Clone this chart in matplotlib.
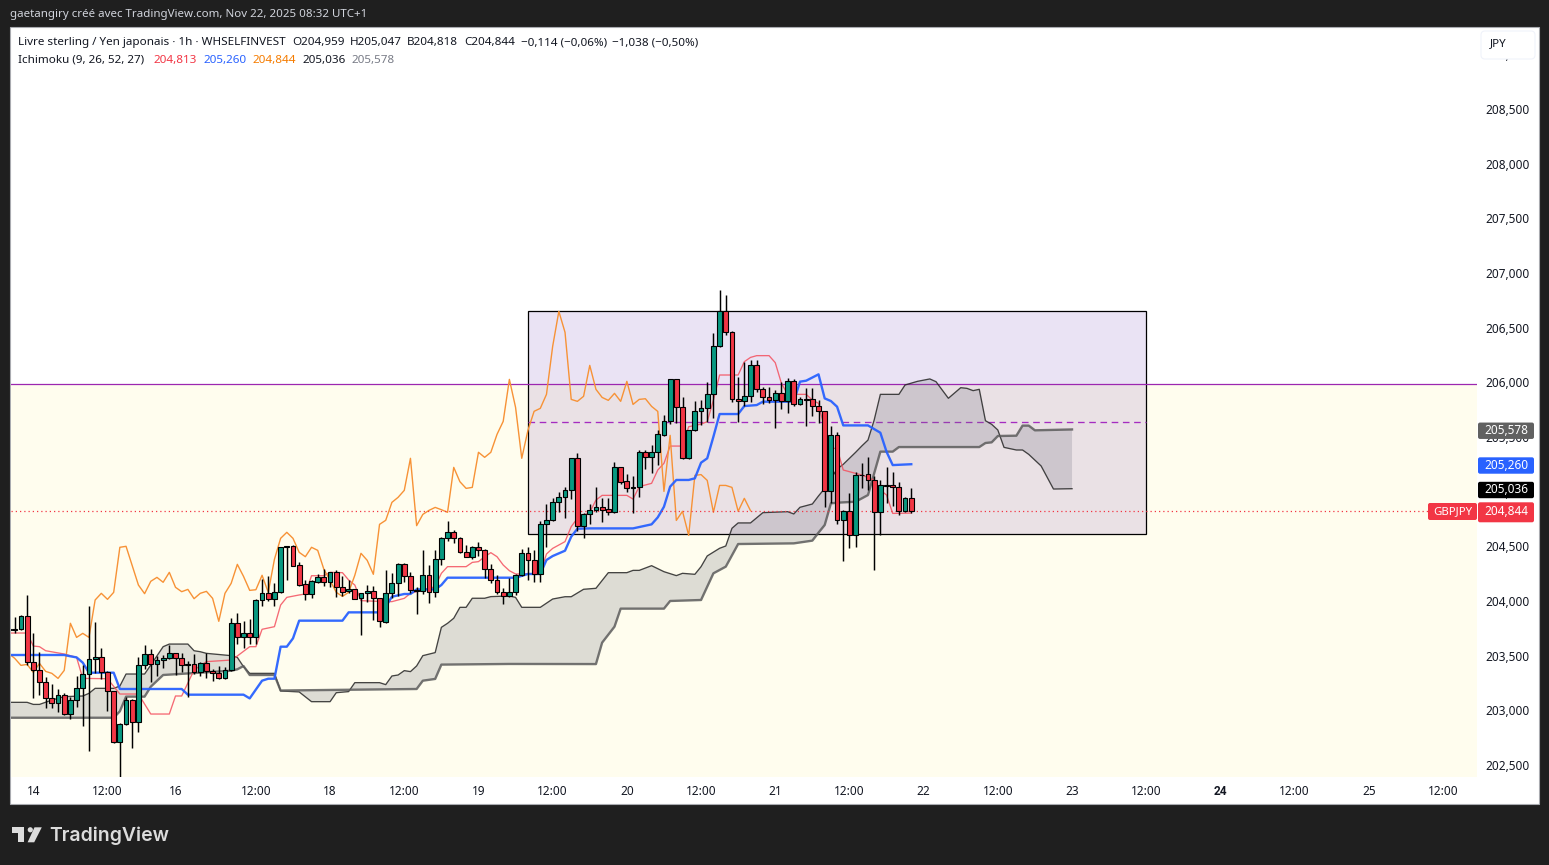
import numpy as np
import matplotlib
matplotlib.use('Agg')
import matplotlib.pyplot as plt
from matplotlib.patches import Rectangle, FancyBboxPatch, Polygon, Circle
from matplotlib.transforms import ScaledTranslation

plt.rcParams['font.family'] = ['Noto Sans', 'DejaVu Sans']

# hourly candles, first one is bar -4, bar 0 is the "14" tick
first_bar = -4
opens = [203.74,203.745,203.75,203.869,203.448,203.374,203.265,203.118,203.079,203.146,
 202.972,203.1,203.21,203.338,203.475,203.493,203.356,203.182,202.716,202.88,
 203.1,202.899,203.42,203.521,203.429,203.466,203.484,203.53,203.484,203.42,
 203.429,203.356,203.438,203.365,203.347,203.301,203.374,203.805,203.676,203.713,
 203.676,204.015,204.079,204.024,204.088,204.5,204.508,204.338,204.161,204.076,
 204.186,204.225,204.18,204.271,204.134,204.097,204.115,204.033,204.079,204.097,
 204.033,203.817,204.079,204.17,204.344,204.234,204.103,204.097,204.244,204.088,
 204.39,204.582,204.637,204.582,204.454,204.414,204.5,204.472,204.298,204.198,
 204.088,204.051,204.088,204.244,204.445,204.381,204.253,204.71,204.747,204.911,
 204.957,205.021,205.314,204.698,204.801,204.838,204.865,204.847,204.82,205.231,
 205.103,205.039,205.048,205.369,205.323,205.369,205.53,205.652,206.036,205.78,
 205.314,205.57,205.744,205.771,205.899,206.338,206.658,206.466,205.853,205.835,
 205.881,206.164,205.945,205.871,205.844,205.908,205.835,206.018,205.807,205.85,
 205.853,205.789,205.743,205.011,205.524,204.746,204.829,204.609,205.158,205.167,
 205.112,204.82,205.06,205.066,205.048,204.829,204.95]
highs = [203.77,203.859,203.881,204.064,203.713,203.539,203.316,203.249,203.204,203.164,
 203.134,203.323,203.423,203.963,203.817,203.576,203.371,203.185,202.889,203.134,
 203.109,203.5,203.606,203.567,203.506,203.515,203.606,203.536,203.536,203.463,
 203.521,203.454,203.53,203.384,203.414,203.408,203.85,203.896,203.826,203.841,
 204.024,204.207,204.238,204.17,204.506,204.509,204.521,204.369,204.201,204.201,
 204.253,204.298,204.277,204.292,204.237,204.201,204.118,204.082,204.155,204.146,
 204.039,204.292,204.262,204.353,204.353,204.277,204.14,204.475,204.338,204.475,
 204.591,204.741,204.658,204.591,204.521,204.512,204.552,204.481,204.344,204.244,
 204.125,204.216,204.256,204.481,204.506,204.475,204.741,204.896,204.954,205.009,
 205.048,205.317,205.36,204.811,204.896,205.055,204.948,204.948,205.283,205.237,
 205.17,205.155,205.39,205.39,205.436,205.573,205.71,206.04,206.04,205.872,
 205.573,205.838,205.847,206.009,206.457,206.854,206.808,206.482,206.061,206.198,
 206.213,206.213,205.969,205.969,205.939,206.015,206.045,206.036,205.878,205.954,
 205.954,205.847,205.746,205.609,205.551,204.841,204.993,205.191,205.268,205.323,
 205.152,205.115,205.231,205.185,205.097,204.963,205.04]
lows = [203.73,203.719,203.744,203.423,203.124,203.149,203.033,203.027,202.993,202.966,
 202.929,203.042,202.865,202.639,203.347,203.292,203.002,202.706,202.402,202.874,
 202.667,202.813,203.384,203.271,203.323,203.393,203.475,203.332,203.362,203.134,
 203.341,203.323,203.307,203.28,203.292,203.298,203.371,203.615,203.576,203.615,
 203.615,203.966,204.009,203.963,204.079,204.201,204.329,204.146,204.018,204.039,
 204.177,204.146,204.134,204.048,204.057,204.079,204.024,203.698,204.003,203.835,
 203.774,203.811,204.033,204.057,204.186,204.079,203.893,204.073,203.987,204.048,
 204.338,204.561,204.542,204.445,204.408,204.39,204.421,204.222,204.17,204.073,
 203.981,204.048,204.067,204.237,204.201,204.186,204.186,204.506,204.744,204.826,
 204.771,204.942,204.652,204.588,204.713,204.826,204.734,204.795,204.811,205.079,
 205.009,204.811,204.963,205.216,205.182,205.252,205.518,205.625,205.64,205.305,
 205.31,205.564,205.619,205.649,205.686,206.329,206.442,205.832,205.649,205.792,
 205.832,205.923,205.81,205.817,205.588,205.762,205.731,205.795,205.801,205.612,
 205.701,205.634,204.871,204.902,204.71,204.377,204.496,204.505,205.045,205.024,
 204.295,204.609,204.902,204.877,204.795,204.82,204.81]
closes = [203.75,203.75,203.869,203.448,203.374,203.265,203.118,203.079,203.146,202.972,
 203.1,203.21,203.338,203.475,203.493,203.356,203.182,202.716,202.88,203.1,
 202.899,203.42,203.521,203.429,203.466,203.484,203.53,203.484,203.42,203.429,
 203.356,203.438,203.365,203.347,203.301,203.374,203.805,203.676,203.713,203.676,
 204.018,204.079,204.024,204.088,204.5,204.509,204.332,204.155,204.076,204.189,
 204.225,204.18,204.271,204.134,204.094,204.115,204.03,204.079,204.097,204.033,
 203.823,204.079,204.17,204.344,204.234,204.106,204.112,204.244,204.088,204.39,
 204.582,204.637,204.582,204.454,204.414,204.5,204.472,204.298,204.198,204.088,
 204.051,204.088,204.244,204.445,204.381,204.253,204.71,204.747,204.911,204.957,
 205.021,205.314,204.698,204.801,204.838,204.865,204.844,204.82,205.231,205.1,
 205.039,205.048,205.369,205.323,205.369,205.533,205.652,206.036,205.78,205.314,
 205.57,205.744,205.771,205.899,206.338,206.658,206.466,205.853,205.835,205.881,
 206.164,205.945,205.871,205.844,205.908,205.835,206.018,205.807,205.853,205.859,
 205.789,205.743,205.011,205.524,204.746,204.829,204.609,205.158,205.165,205.112,
 204.82,205.066,205.066,205.048,204.829,204.948,204.835]

# ichimoku lines, read at their corners: bar, price
tenkan_bars = [-4,-1,0,1,2,5,7,8,12,14,17,19,22,23,24,26,28,32,33,35,36,37,39,40,41,43,44,45,47,48,50,51,52,53,57,58,60,61,63,65,66,67,70,71,72,73,74,75,76,77,78,79,82,83,84,86,87,88,90,91,92,96,97,98,100,101,102,103,105,106,108,109,110,111,114,115,116,117,119,120,121,122,125,126,127,128,129,130,131,134,136,137,138,139,142]
tenkan_vals = [203.716,203.716,203.597,203.591,203.554,203.524,203.493,203.301,203.298,203.158,203.158,202.975,202.975,203.14,203.14,203.378,203.454,203.469,203.506,203.591,203.591,203.75,203.774,203.972,204.042,204.064,204.073,204.24,204.24,204.271,204.268,204.201,204.155,204.012,204.003,204.003,204.033,204.079,204.109,204.14,204.262,204.323,204.323,204.362,204.369,204.414,204.451,204.414,204.338,204.286,204.256,204.256,204.262,204.439,204.49,204.552,204.689,204.765,204.82,204.932,204.975,204.975,204.941,205.055,205.085,205.207,205.268,205.426,205.426,205.603,205.627,205.649,205.847,206.076,206.076,206.198,206.237,206.253,206.253,206.189,206.0,205.899,205.899,205.847,205.817,205.573,205.405,205.405,205.207,205.161,205.115,205.024,204.978,204.81,204.813]
kijun_bars = [-4,5,6,7,8,9,13,14,24,25,34,35,37,38,39,40,41,42,43,50,51,56,57,58,60,61,62,65,66,67,78,80,82,83,84,86,87,88,90,97,100,101,102,103,104,106,107,108,109,110,111,114,115,117,118,123,124,125,127,128,129,130,131,135,137,138,139,142]
kijun_vals = [203.515,203.515,203.503,203.493,203.445,203.353,203.353,203.204,203.204,203.152,203.152,203.118,203.28,203.298,203.298,203.591,203.591,203.667,203.829,203.829,203.905,203.905,203.957,204.048,204.073,204.073,204.115,204.115,204.155,204.222,204.222,204.256,204.256,204.384,204.42,204.469,204.597,204.67,204.673,204.673,204.71,204.774,204.871,205.055,205.116,205.116,205.131,205.274,205.314,205.512,205.719,205.719,205.792,205.801,205.832,205.832,206.015,206.024,206.082,205.862,205.838,205.786,205.615,205.615,205.548,205.374,205.252,205.26]
span_a_bars = [-4,-1,0,1,3,5,8,9,10,13,14,15,18,19,21,22,25,26,27,28,32,33,34,35,39,40,43,45,48,49,51,52,56,57,58,59,60,61,62,63,65,66,67,68,69,70,71,73,74,77,78,79,82,84,86,87,89,91,93,96,97,98,100,102,104,105,107,108,109,111,112,113,114,116,118,122,123,124,126,127,128,130,131,132,133,134,135,136,137,140,141,143,145,146,148,150,151,152,153,154,155,156,157,159,160,161,163,165,168]
span_a_vals = [203.082,203.082,203.063,203.063,203.103,203.134,203.14,203.164,203.21,203.21,203.231,203.341,203.341,203.423,203.591,203.615,203.615,203.554,203.545,203.53,203.509,203.493,203.408,203.347,203.347,203.186,203.177,203.088,203.088,203.17,203.18,203.262,203.262,203.244,203.323,203.332,203.372,203.363,203.415,203.509,203.537,203.768,203.805,203.851,203.951,203.951,204.034,204.034,204.049,204.055,204.042,203.951,203.951,204.027,204.048,204.048,204.116,204.125,204.268,204.268,204.289,204.289,204.332,204.277,204.241,204.262,204.253,204.323,204.421,204.491,204.512,204.674,204.723,204.723,204.817,204.826,204.805,204.866,204.896,204.97,205.039,205.216,205.259,205.314,205.369,205.427,205.481,205.664,205.899,205.899,205.985,206.018,206.04,206.015,205.863,205.96,205.954,205.933,205.945,205.658,205.625,205.573,205.414,205.39,205.39,205.35,205.244,205.033,205.036]
span_b_bars = [-4,13,14,15,18,19,21,32,33,34,35,39,40,62,63,65,66,77,91,92,94,95,102,103,108,110,112,114,123,126,127,128,129,130,133,135,137,139,140,153,154,155,156,159,160,161,162,168]
span_b_vals = [202.941,202.941,203.0,203.134,203.134,203.225,203.332,203.371,203.384,203.414,203.332,203.332,203.19,203.204,203.28,203.296,203.427,203.433,203.432,203.628,203.774,203.939,203.939,204.009,204.018,204.262,204.323,204.53,204.536,204.561,204.634,204.704,204.902,204.908,204.917,204.978,205.375,205.375,205.417,205.417,205.454,205.46,205.518,205.521,205.613,205.613,205.57,205.578]
lag_shift = 26

# drawings on the chart
zone_left, zone_right = 80, 180
zone_low, zone_high = 204.622, 206.662
zone_mid = 205.642
level = 205.99

y_ticks = [202.5,203,203.5,204,204.5,205,205.5,206,206.5,207,207.5,208,208.5,209]
y_labels = ['202,500','203,000','203,500','204,000','204,500','205,000','205,500','206,000','206,500','207,000','207,500','208,000','208,500','209,000']
x_ticks = [0,12,23,36,48,60,72,84,96,108,120,132,144,156,168,180,192,204,216,228]
x_labels = ['14','12:00','16','12:00','18','12:00','19','12:00','20','12:00','21','12:00','22','12:00','23','12:00','24','12:00','25','12:00']

badge_prices = [205.578, 205.26, 205.036, 204.844]
badge_texts = ['205,578', '205,260', '205,036', '204,844']
badge_colors = ['#616161', '#2962ff', '#000000', '#f23645']

W, H = 1549, 865
fig = plt.figure(figsize=(W / 100, H / 100), dpi=100, facecolor='#1f1f1f')


def px_rect(x0, y0, x1, y1):
    return [x0 / W, 1 - y1 / H, (x1 - x0) / W, (y1 - y0) / H]


back = fig.add_axes([0, 0, 1, 1], zorder=0)
back.set_xlim(0, W)
back.set_ylim(H, 0)
back.axis('off')
back.add_patch(Rectangle((10, 27), 1529, 777, fc='white', ec='#a9abb0', lw=0.8))

ax = fig.add_axes(px_rect(11, 28, 1477, 777), zorder=1)
ax.patch.set_alpha(0)
ax.set_xlim(-3.607, 233.5)
ax.set_ylim(202.399, 209.25)
for s in ax.spines.values():
    s.set_visible(False)

bars = np.arange(first_bar, first_bar + len(closes))
opens, highs, lows, closes = map(np.array, (opens, highs, lows, closes))

# background zone and the rectangle
ax.axhspan(202.399, level, color='#fffdee', lw=0, zorder=0)
ax.add_patch(Rectangle((zone_left, zone_low), zone_right - zone_left, zone_high - zone_low,
                       fc='#6e3cb4', alpha=0.14, lw=0, zorder=1))
ax.add_patch(Rectangle((zone_left, zone_low), zone_right - zone_left, zone_high - zone_low,
                       fc='none', ec='black', lw=0.9, zorder=1.5))
ax.axhline(level, color='#9c27b0', lw=0.9, zorder=1.6)
ax.plot([zone_left, zone_right], [zone_mid, zone_mid], color='#a52cc0', lw=0.95,
        dashes=(5, 3.5), zorder=1.6)

# cloud, one polygon so the twists stay filled
ax.fill(np.r_[span_a_bars, span_b_bars[::-1]], np.r_[span_a_vals, span_b_vals[::-1]],
        color='#707080', alpha=0.23, lw=0, zorder=2)
ax.plot(span_a_bars, span_a_vals, color='#262626', lw=0.95, alpha=0.85, zorder=3)
ax.plot(span_b_bars, span_b_vals, color='#5c5c5c', lw=1.7, alpha=0.85, zorder=3)

# conversion, base, lagging
ax.plot(tenkan_bars, tenkan_vals, color='#f4505f', lw=0.95, alpha=0.85, zorder=3.2)
ax.plot(bars[:-lag_shift], closes[lag_shift:], color='#f79236', lw=1.0, zorder=3.2)
ax.plot(kijun_bars, kijun_vals, color='#2962ff', lw=1.7, alpha=0.95, zorder=3.3)

# candles
colors = np.where(closes >= opens, '#089981', '#f23645')
ax.vlines(bars, lows, highs, color='black', lw=1.05, zorder=4)
ax.bar(bars, np.abs(closes - opens), bottom=np.minimum(opens, closes), width=0.78,
       color=colors, edgecolor='black', linewidth=0.8, zorder=5)

# last price line
ax.axhline(closes[-1], color='#f23645', lw=0.9, dashes=(1, 2.4), zorder=3.4)

ax.yaxis.tick_right()
ax.set_yticks(y_ticks, y_labels, fontsize=8.5, color='#131722')
ax.set_xticks(x_ticks, x_labels, fontsize=8.5, color='#131722')
ax.tick_params(axis='both', length=0)
ax.tick_params(axis='y', pad=6.3)
ax.tick_params(axis='x', pad=5.6)
ax.get_xticklabels()[16].set(fontweight='bold', family='Roboto')
for lab in ax.get_yticklabels():
    lab.set_transform(lab.get_transform() + ScaledTranslation(0, 0.01, fig.dpi_scale_trans))

# everything on top, in pixels
top = fig.add_axes([0, 0, 1, 1], zorder=2)
top.set_xlim(0, W)
top.set_ylim(H, 0)
top.axis('off')


def price_y(p):
    return H - ax.transData.transform((0, p))[1]


for p, t, c in zip(badge_prices, badge_texts, badge_colors):
    yc = price_y(p) + (2.6 if t == '204,844' else 1.3)
    h = 10 if t == '204,844' else 8.2
    top.add_patch(FancyBboxPatch((1479, yc - h + 1), 54, 2 * h - 2, boxstyle='round,pad=1,rounding_size=2',
                                 fc=c, ec='none'))
    top.text(1506, yc - 0.5, t, color='white', fontsize=8.5, ha='center', va='center')
top.add_patch(FancyBboxPatch((1429, 504), 47, 15, boxstyle='round,pad=1,rounding_size=2', fc='#f23645', ec='none'))
top.text(1452.5, 511.5, 'GBPJPY', color='white', fontsize=8.2, ha='center', va='center')

top.add_patch(FancyBboxPatch((1482, 32), 52, 26, boxstyle='round,pad=1,rounding_size=4', fc='white', ec='#f0f3fa', lw=0.8))
top.text(1490, 44, 'JPY', color='#131722', fontsize=8.3, va='center')

top.text(10, 15, 'gaetangiry créé avec TradingView.com, Nov 22, 2025 08:32 UTC+1', color='#d1d4dc',
         fontsize=8.3, va='center')

ink = '#131722'
line1 = [(18, 'Livre sterling / Yen japonais · 1h · WHSELFINVEST'), (292, 'O204,959'), (350, 'H205,047'),
         (407, 'B204,818'), (464, 'C204,844'), (521, '−0,114 (−0,06%)'), (612, '−1,038 (−0,50%)')]
for x, t in line1:
    top.text(x, 43, t, color=ink, fontsize=8.4, va='center')
line2 = [(18, 'Ichimoku (9, 26, 52, 27)', ink), (154, '204,813', '#f23645'), (204, '205,260', '#2962ff'),
         (253, '204,844', '#f57c00'), (303, '205,036', ink), (352, '205,578', '#787b86')]
for x, t, c in line2:
    top.text(x, 60, t, color=c, fontsize=8.4, va='center')

# logo
logo = '#dcdcdc'
top.add_patch(Polygon([(12.5, 827.3), (24.3, 827.3), (24.3, 842.3), (18, 842.3), (18, 832.5), (12.5, 832.5)], fc=logo, ec='none'))
top.add_patch(Circle((30.3, 829.8), 2.6, fc=logo, ec='none'))
top.add_patch(Polygon([(34.5, 827.3), (41.8, 827.3), (34.2, 842.3), (27.6, 842.3)], fc=logo, ec='none'))
top.text(49, 836, 'TradingView', color=logo, fontsize=14, fontweight='semibold', family='Inter', va='center')

fig.savefig('out.png', dpi=100, facecolor=fig.get_facecolor())
